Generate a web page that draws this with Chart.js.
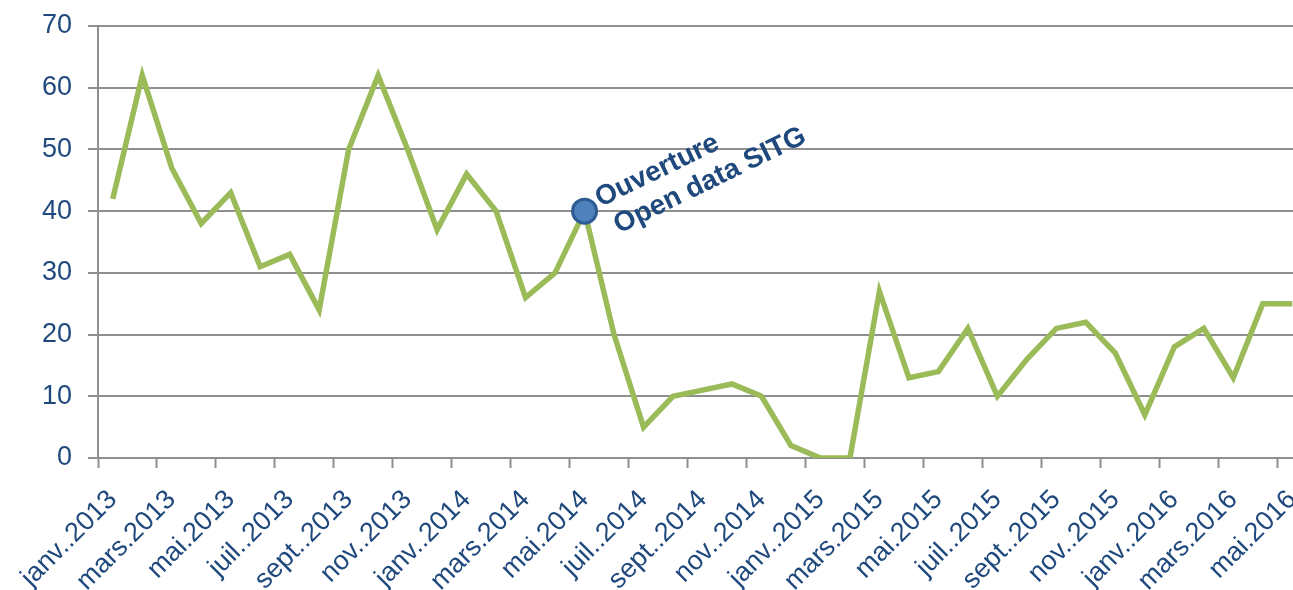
<!DOCTYPE html>
<html>
<head>
<meta charset="utf-8">
<script src="https://cdn.jsdelivr.net/npm/chart.js@4.4.1/dist/chart.umd.min.js"></script>
<style>
  html, body { margin: 0; padding: 0; background: #fff; overflow: hidden; }
  #wrap { width: 1293px; height: 590px; overflow: hidden; }
</style>
</head>
<body>
<div id="wrap"><canvas id="myChart" width="1307" height="590"></canvas></div>
<script>
// monthly values, janv. 2013 -> mai 2016
const categories = [
  'janv..2013', 'févr..2013', 'mars.2013', 'avr..2013', 'mai.2013', 'juin.2013',
  'juil..2013', 'août.2013', 'sept..2013', 'oct..2013', 'nov..2013', 'déc..2013',
  'janv..2014', 'févr..2014', 'mars.2014', 'avr..2014', 'mai.2014', 'juin.2014',
  'juil..2014', 'août.2014', 'sept..2014', 'oct..2014', 'nov..2014', 'déc..2014',
  'janv..2015', 'févr..2015', 'mars.2015', 'avr..2015', 'mai.2015', 'juin.2015',
  'juil..2015', 'août.2015', 'sept..2015', 'oct..2015', 'nov..2015', 'déc..2015',
  'janv..2016', 'févr..2016', 'mars.2016', 'avr..2016', 'mai.2016'
]
const values = [
  42, 62, 47, 38, 43, 31, 33, 24, 50, 62, 50, 37,
  46, 40, 26, 30, 40, 20, 5, 10, 11, 12, 10, 2,
  0, 0, 27, 13, 14, 21, 10, 16, 21, 22, 17, 7,
  18, 21, 13, 25, 25
]
const yTicks = [0, 10, 20, 30, 40, 50, 60, 70]
const eventIndex = 16
const eventText = ['Ouverture', 'Open data SITG']

const textColor = '#1F497D'
const gridColor = '#8F8F8F'
const fontFamily = '"Liberation Sans", Arial, sans-serif'

const eventLabel = {
  id: 'eventLabel',
  afterDatasetsDraw(chart) {
    const pt = chart.getDatasetMeta(0).data[eventIndex]
    const c = chart.ctx
    c.save()
    c.translate(pt.x + 16, pt.y - 4)
    c.rotate(-26 * Math.PI / 180)
    c.font = 'bold 28px ' + fontFamily
    c.fillStyle = textColor
    c.textBaseline = 'alphabetic'
    c.fillText(eventText[0], 0, 0)
    c.fillText(eventText[1], 5, 32)
    c.restore()
  }
}

const ctx = document.getElementById('myChart')

new Chart(ctx, {
  type: 'line',
  data: {
    labels: categories,
    datasets: [{
      data: values,
      borderColor: '#9BBB59',
      borderWidth: 5.5,
      tension: 0,
      fill: false,
      pointRadius: values.map((v, i) => i === eventIndex ? 12 : 0),
      pointBackgroundColor: '#4F81BD',
      pointBorderColor: '#2E5C92',
      pointBorderWidth: 3
    }]
  },
  options: {
    responsive: false,
    animation: false,
    layout: { padding: { top: 26, left: 0, right: 0, bottom: 0 } },
    plugins: {
      legend: { display: false },
      tooltip: { enabled: false }
    },
    scales: {
      x: {
        offset: true,
        grid: {
          offset: true,
          drawOnChartArea: false,
          drawTicks: true,
          tickLength: 10,
          tickWidth: 2,
          tickColor: c => c.index % 2 === 0 ? gridColor : 'rgba(0,0,0,0)'
        },
        border: { display: true, color: gridColor, width: 2 },
        ticks: {
          autoSkip: false,
          minRotation: 45,
          maxRotation: 45,
          padding: 16,
          labelOffset: 0,
          color: textColor,
          font: { size: 27, family: fontFamily },
          callback: (v, i) => i % 2 === 0 ? categories[i] : ''
        },
        afterFit: s => { s.height = 132; s.paddingLeft = 0; s.paddingRight = 0 }
      },
      y: {
        min: 0,
        max: 70,
        afterBuildTicks: s => { s.ticks = yTicks.map(v => ({ value: v })) },
        grid: { color: gridColor, lineWidth: 2, drawTicks: true, tickLength: 10 },
        border: { display: true, color: gridColor, width: 2 },
        ticks: {
          padding: 16,
          color: textColor,
          font: { size: 27, family: fontFamily }
        },
        afterFit: s => { s.width = 98; s.paddingTop = 0; s.paddingBottom = 0 }
      }
    }
  },
  plugins: [eventLabel]
})
</script>
</body>
</html>
